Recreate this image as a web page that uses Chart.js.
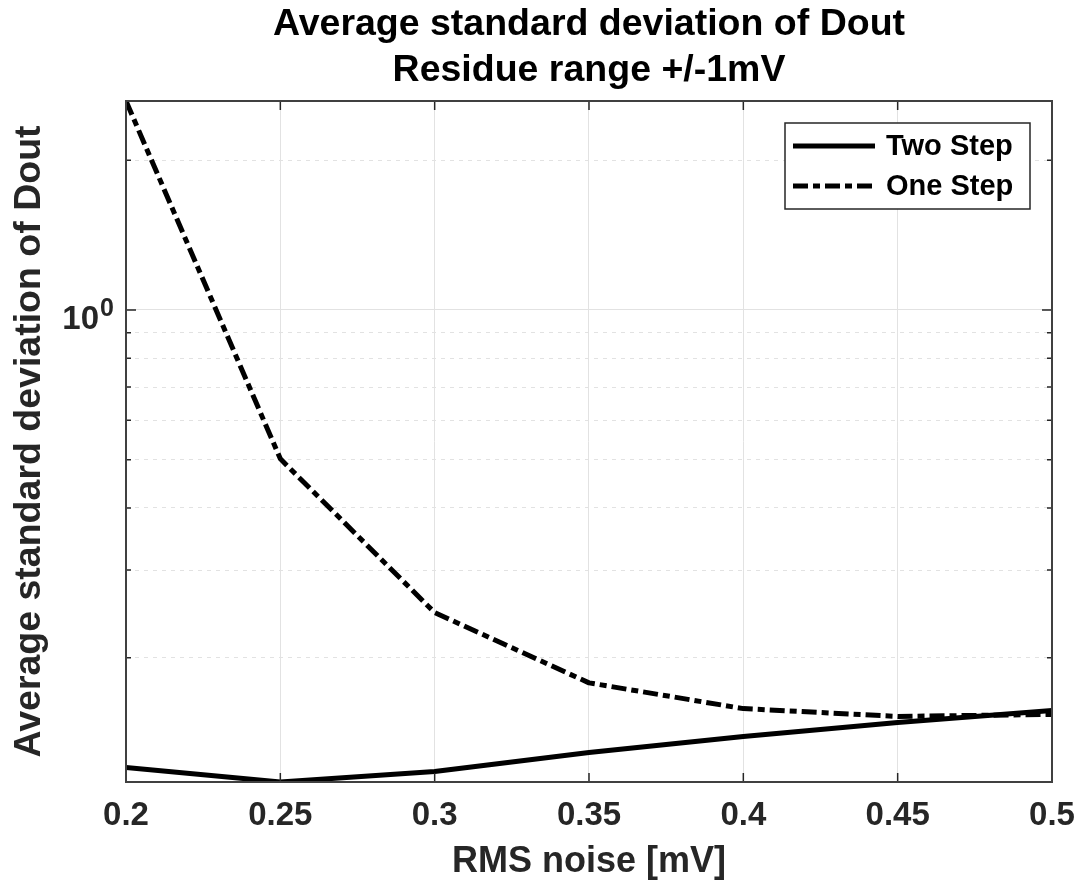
<!DOCTYPE html>
<html>
<head>
<meta charset="utf-8">
<script src="https://cdn.jsdelivr.net/npm/chart.js@4/dist/chart.umd.min.js"></script>
<style>
  html, body { margin: 0; padding: 0; background: #ffffff; }
  #wrap { width: 1081px; height: 892px; }
</style>
</head>
<body>
<div id="wrap"><canvas id="c" width="1081" height="892"></canvas></div>
<script>
// ---- data ----
const noiseLevels = [0.2, 0.25, 0.3, 0.35, 0.4, 0.45, 0.5];
const twoStep = [0.1203, 0.1125, 0.1181, 0.129, 0.1389, 0.1482, 0.1567];
const oneStep = [2.63, 0.502, 0.2464, 0.178, 0.158, 0.1524, 0.1538];
const seriesNames = ['Two Step', 'One Step'];
const xTickValues = [0.2, 0.25, 0.3, 0.35, 0.4, 0.45, 0.5];
const xTickLabels = ['0.2', '0.25', '0.3', '0.35', '0.4', '0.45', '0.5'];
const yGridValues = [0.2, 0.3, 0.4, 0.5, 0.6, 0.7, 0.8, 0.9, 1, 2];
const yMajorValues = [1];
const yTickBase = ['10'];
const yTickExp = ['0'];
const yRange = [0.1125, 2.63];
const xRange = [0.2, 0.5];
const titleLines = ['Average standard deviation of Dout', 'Residue range +/-1mV'];
const xTitle = 'RMS noise [mV]';
const yTitle = 'Average standard deviation of Dout';

const FONT = '"Liberation Sans", Arial, Helvetica, sans-serif';
const AXIS_COLOR = '#262626';
const GRID_COLOR = '#e2e2e2';

function toPoints(xs, ys) { return xs.map((x, i) => ({ x: x, y: ys[i] })); }

const framePlugin = {
  id: 'matlabFrame',
  afterDraw(chart) {
    const ctx = chart.ctx;
    const a = chart.chartArea;
    const xs = chart.scales.x, ys = chart.scales.y;
    ctx.save();
    // tick marks (inside)
    ctx.strokeStyle = AXIS_COLOR;
    ctx.lineWidth = 1.5;
    ctx.beginPath();
    xTickValues.forEach(v => {
      const px = xs.getPixelForValue(v);
      ctx.moveTo(px, a.bottom); ctx.lineTo(px, a.bottom - 9);
      ctx.moveTo(px, a.top); ctx.lineTo(px, a.top + 9);
    });
    yGridValues.forEach(v => {
      const py = ys.getPixelForValue(v);
      const len = yMajorValues.includes(v) ? 10 : 5;
      ctx.moveTo(a.left, py); ctx.lineTo(a.left + len, py);
      ctx.moveTo(a.right, py); ctx.lineTo(a.right - len, py);
    });
    ctx.stroke();
    // box
    ctx.strokeStyle = '#404040';
    ctx.lineWidth = 2;
    ctx.strokeRect(a.left, a.top, a.right - a.left, a.bottom - a.top);

    // y tick labels 10^0
    ctx.fillStyle = AXIS_COLOR;
    yMajorValues.forEach((v, i) => {
      const py = ys.getPixelForValue(v);
      ctx.font = 'bold 25px ' + FONT;
      ctx.textAlign = 'left';
      ctx.textBaseline = 'alphabetic';
      const expX = a.left - 26;
      ctx.fillText(yTickExp[i], expX, py + 6);
      ctx.font = 'bold 33px ' + FONT;
      ctx.textAlign = 'right';
      ctx.fillText(yTickBase[i], expX - 1, py + 19);
    });

    // legend
    const bw = 245, bh = 86;
    const bx = a.right - 22 - bw, by = a.top + 22;
    ctx.fillStyle = '#ffffff';
    ctx.fillRect(bx, by, bw, bh);
    ctx.strokeStyle = '#262626';
    ctx.lineWidth = 1.5;
    ctx.strokeRect(bx, by, bw, bh);
    chart.data.datasets.forEach((ds, i) => {
      const ly = by + 23 + i * 40;
      ctx.beginPath();
      ctx.strokeStyle = ds.borderColor;
      ctx.lineWidth = ds.borderWidth;
      ctx.lineCap = 'butt';
      ctx.setLineDash(ds.borderDash || []);
      ctx.moveTo(bx + 8, ly); ctx.lineTo(bx + 90, ly);
      ctx.stroke();
      ctx.setLineDash([]);
      ctx.fillStyle = '#000000';
      ctx.font = 'bold 29px ' + FONT;
      ctx.textAlign = 'left';
      ctx.textBaseline = 'middle';
      ctx.fillText(ds.label, bx + 101, ly + 1);
    });
    ctx.restore();
  }
};

new Chart(document.getElementById('c'), {
  type: 'line',
  data: {
    datasets: [
      {
        label: seriesNames[0],
        data: toPoints(noiseLevels, twoStep),
        borderColor: '#000000',
        borderWidth: 5,
        pointRadius: 0,
        tension: 0,
        borderCapStyle: 'butt',
        borderJoinStyle: 'round'
      },
      {
        label: seriesNames[1],
        data: toPoints(noiseLevels, oneStep),
        borderColor: '#000000',
        borderWidth: 5,
        borderDash: [15, 5, 7, 5],
        pointRadius: 0,
        tension: 0,
        borderCapStyle: 'butt',
        borderJoinStyle: 'round'
      }
    ]
  },
  options: {
    responsive: false,
    animation: false,
    devicePixelRatio: 1,
    layout: { padding: { left: 0, right: 29, top: 0, bottom: 0 } },
    plugins: {
      legend: { display: false },
      tooltip: { enabled: false },
      title: {
        display: true,
        fullSize: false,
        text: titleLines,
        color: '#000000',
        font: { family: FONT, size: 37.5, weight: 'bold', lineHeight: 1.24 },
        padding: { top: 1, bottom: 7 }
      }
    },
    scales: {
      x: {
        type: 'linear',
        min: xRange[0],
        max: xRange[1],
        afterBuildTicks(scale) { scale.ticks = xTickValues.map(v => ({ value: v })); },
        afterFit(scale) { scale.height = 110; scale.paddingLeft = 0; scale.paddingRight = 0; },
        ticks: {
          color: AXIS_COLOR,
          font: { family: FONT, size: 33, weight: 'bold' },
          padding: 14,
          maxRotation: 0,
          autoSkip: false,
          callback: (v, i) => xTickLabels[i]
        },
        grid: { color: GRID_COLOR, lineWidth: 1, drawTicks: false },
        border: { display: false },
        title: {
          display: true,
          text: xTitle,
          color: AXIS_COLOR,
          font: { family: FONT, size: 36, weight: 'bold', lineHeight: 1.2 },
          padding: { top: 0, bottom: 8 }
        }
      },
      y: {
        type: 'logarithmic',
        min: yRange[0],
        max: yRange[1],
        afterBuildTicks(scale) { scale.ticks = yGridValues.map(v => ({ value: v, major: yMajorValues.includes(v) })); },
        afterFit(scale) { scale.width = 126; scale.paddingTop = 0; scale.paddingBottom = 0; },
        ticks: { display: false },
        grid: { color: GRID_COLOR, lineWidth: 1, drawTicks: false },
        border: {
          display: false,
          dash: (ctx) => (ctx.tick && !yMajorValues.includes(ctx.tick.value)) ? [4, 5] : []
        },
        title: {
          display: true,
          text: yTitle,
          color: AXIS_COLOR,
          font: { family: FONT, size: 37.5, weight: 'bold', lineHeight: 1.2 },
          padding: { top: 7, bottom: 0 }
        }
      }
    }
  },
  plugins: [framePlugin]
});
</script>
</body>
</html>
